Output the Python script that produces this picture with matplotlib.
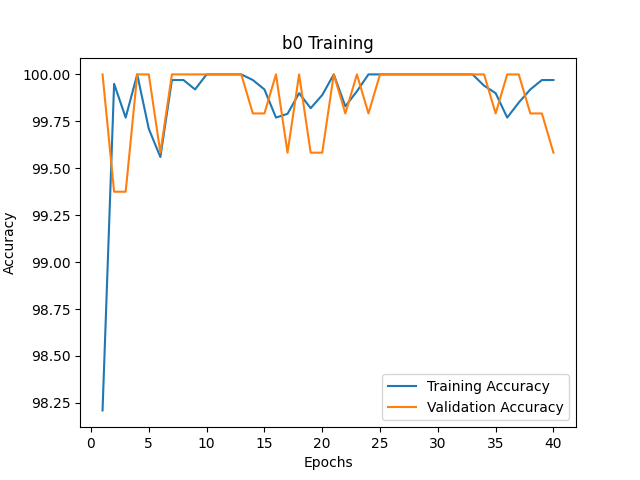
import numpy as np
import matplotlib
matplotlib.use("Agg")
import matplotlib.pyplot as plt

epochs = list(range(1, 41))

train_acc = [98.21, 99.95, 99.77, 100.0, 99.71, 99.56, 99.97, 99.97, 99.92, 100.0,
             100.0, 100.0, 100.0, 99.97, 99.92, 99.77, 99.79, 99.90, 99.82, 99.89,
             100.0, 99.83, 99.91, 100.0, 100.0, 100.0, 100.0, 100.0, 100.0, 100.0,
             100.0, 100.0, 100.0, 99.94, 99.90, 99.77, 99.85, 99.92, 99.97, 99.97]

val_acc = [100.0, 99.375, 99.375, 100.0, 100.0, 99.583, 100.0, 100.0, 100.0, 100.0,
           100.0, 100.0, 100.0, 99.792, 99.792, 100.0, 99.583, 100.0, 99.583, 99.583,
           100.0, 99.792, 100.0, 99.792, 100.0, 100.0, 100.0, 100.0, 100.0, 100.0,
           100.0, 100.0, 100.0, 100.0, 99.792, 100.0, 100.0, 99.792, 99.792, 99.583]

fig = plt.figure(figsize=(6.4, 4.8), dpi=100)
plt.plot(epochs, train_acc, label='Training Accuracy')
plt.plot(epochs, val_acc, label='Validation Accuracy')
plt.title('b0 Training')
plt.xlabel('Epochs')
plt.ylabel('Accuracy')
plt.legend()
plt.savefig('out.png')
